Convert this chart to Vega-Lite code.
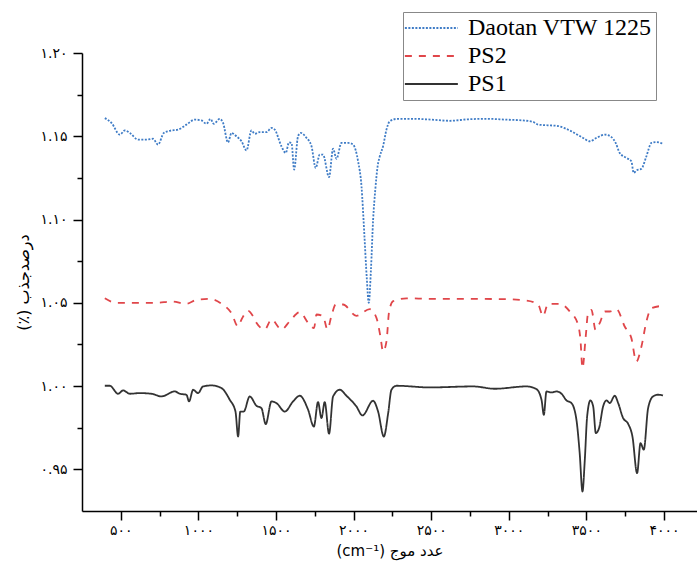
{
 "$schema": "https://vega.github.io/schema/vega-lite/v6.json",
 "width": 615,
 "height": 458,
 "autosize": {"type": "none"},
 "padding": {"left": 82, "top": 53, "right": 0, "bottom": 55},
 "background": "white",
 "config": {
  "view": {"stroke": null},
  "axis": {"grid": false, "domainColor": "#000", "domainWidth": 1.5, "tickColor": "#000", "tickWidth": 1.5, "labelColor": "#000", "titleColor": "#000", "labelFont": "DejaVu Sans", "titleFont": "DejaVu Sans", "titleFontWeight": "normal"},
  "legend": {"orient": "none", "legendX": 321, "legendY": -41, "strokeColor": "#888", "padding": 4, "symbolType": "M-1.6,0H4.4", "symbolSize": 312, "symbolStrokeWidth": 2, "symbolFillColor": "transparent", "labelFont": "Liberation Serif", "labelFontSize": 24, "labelColor": "#000", "labelOffset": 37, "rowPadding": 4, "title": null, "labelLimit": 400}
 },
 "data": {"values": [
  {"series":"Daotan VTW 1225","wn":397,"v":1.1609},{"series":"Daotan VTW 1225","wn":440,"v":1.1580},{"series":"Daotan VTW 1225","wn":494,"v":1.1510},{"series":"Daotan VTW 1225","wn":526,"v":1.1535},{"series":"Daotan VTW 1225","wn":558,"v":1.1520},{"series":"Daotan VTW 1225","wn":612,"v":1.1480},{"series":"Daotan VTW 1225","wn":666,"v":1.1480},{"series":"Daotan VTW 1225","wn":708,"v":1.1485},{"series":"Daotan VTW 1225","wn":740,"v":1.1450},{"series":"Daotan VTW 1225","wn":777,"v":1.1520},{"series":"Daotan VTW 1225","wn":816,"v":1.1533},{"series":"Daotan VTW 1225","wn":869,"v":1.1540},{"series":"Daotan VTW 1225","wn":923,"v":1.1570},{"series":"Daotan VTW 1225","wn":977,"v":1.1600},{"series":"Daotan VTW 1225","wn":1020,"v":1.1595},{"series":"Daotan VTW 1225","wn":1052,"v":1.1575},{"series":"Daotan VTW 1225","wn":1078,"v":1.1604},{"series":"Daotan VTW 1225","wn":1099,"v":1.1575},{"series":"Daotan VTW 1225","wn":1138,"v":1.1604},{"series":"Daotan VTW 1225","wn":1159,"v":1.1580},{"series":"Daotan VTW 1225","wn":1191,"v":1.1463},{"series":"Daotan VTW 1225","wn":1213,"v":1.1520},{"series":"Daotan VTW 1225","wn":1245,"v":1.1500},{"series":"Daotan VTW 1225","wn":1278,"v":1.1470},{"series":"Daotan VTW 1225","wn":1310,"v":1.1415},{"series":"Daotan VTW 1225","wn":1342,"v":1.1535},{"series":"Daotan VTW 1225","wn":1363,"v":1.1515},{"series":"Daotan VTW 1225","wn":1396,"v":1.1525},{"series":"Daotan VTW 1225","wn":1439,"v":1.1525},{"series":"Daotan VTW 1225","wn":1471,"v":1.1550},{"series":"Daotan VTW 1225","wn":1492,"v":1.1540},{"series":"Daotan VTW 1225","wn":1535,"v":1.1440},{"series":"Daotan VTW 1225","wn":1563,"v":1.1400},{"series":"Daotan VTW 1225","wn":1584,"v":1.1463},{"series":"Daotan VTW 1225","wn":1600,"v":1.1460},{"series":"Daotan VTW 1225","wn":1617,"v":1.1300},{"series":"Daotan VTW 1225","wn":1642,"v":1.1500},{"series":"Daotan VTW 1225","wn":1660,"v":1.1520},{"series":"Daotan VTW 1225","wn":1697,"v":1.1490},{"series":"Daotan VTW 1225","wn":1729,"v":1.1440},{"series":"Daotan VTW 1225","wn":1756,"v":1.1310},{"series":"Daotan VTW 1225","wn":1782,"v":1.1390},{"series":"Daotan VTW 1225","wn":1803,"v":1.1390},{"series":"Daotan VTW 1225","wn":1842,"v":1.1255},{"series":"Daotan VTW 1225","wn":1868,"v":1.1425},{"series":"Daotan VTW 1225","wn":1890,"v":1.1365},{"series":"Daotan VTW 1225","wn":1922,"v":1.1460},{"series":"Daotan VTW 1225","wn":1965,"v":1.1460},{"series":"Daotan VTW 1225","wn":1997,"v":1.1450},{"series":"Daotan VTW 1225","wn":2029,"v":1.1350},{"series":"Daotan VTW 1225","wn":2051,"v":1.1200},{"series":"Daotan VTW 1225","wn":2070,"v":1.0900},{"series":"Daotan VTW 1225","wn":2085,"v":1.0650},{"series":"Daotan VTW 1225","wn":2098,"v":1.0500},{"series":"Daotan VTW 1225","wn":2112,"v":1.0700},{"series":"Daotan VTW 1225","wn":2126,"v":1.1000},{"series":"Daotan VTW 1225","wn":2140,"v":1.1180},{"series":"Daotan VTW 1225","wn":2155,"v":1.1320},{"series":"Daotan VTW 1225","wn":2169,"v":1.1380},{"series":"Daotan VTW 1225","wn":2190,"v":1.1440},{"series":"Daotan VTW 1225","wn":2212,"v":1.1540},{"series":"Daotan VTW 1225","wn":2233,"v":1.1590},{"series":"Daotan VTW 1225","wn":2276,"v":1.1604},{"series":"Daotan VTW 1225","wn":2383,"v":1.1605},{"series":"Daotan VTW 1225","wn":2500,"v":1.1600},{"series":"Daotan VTW 1225","wn":2620,"v":1.1593},{"series":"Daotan VTW 1225","wn":2740,"v":1.1602},{"series":"Daotan VTW 1225","wn":2856,"v":1.1605},{"series":"Daotan VTW 1225","wn":2980,"v":1.1600},{"series":"Daotan VTW 1225","wn":3092,"v":1.1595},{"series":"Daotan VTW 1225","wn":3157,"v":1.1586},{"series":"Daotan VTW 1225","wn":3189,"v":1.1570},{"series":"Daotan VTW 1225","wn":3250,"v":1.1566},{"series":"Daotan VTW 1225","wn":3307,"v":1.1563},{"series":"Daotan VTW 1225","wn":3393,"v":1.1535},{"series":"Daotan VTW 1225","wn":3479,"v":1.1490},{"series":"Daotan VTW 1225","wn":3522,"v":1.1470},{"series":"Daotan VTW 1225","wn":3565,"v":1.1490},{"series":"Daotan VTW 1225","wn":3619,"v":1.1510},{"series":"Daotan VTW 1225","wn":3662,"v":1.1495},{"series":"Daotan VTW 1225","wn":3689,"v":1.1460},{"series":"Daotan VTW 1225","wn":3715,"v":1.1400},{"series":"Daotan VTW 1225","wn":3758,"v":1.1370},{"series":"Daotan VTW 1225","wn":3790,"v":1.1350},{"series":"Daotan VTW 1225","wn":3805,"v":1.1280},{"series":"Daotan VTW 1225","wn":3822,"v":1.1295},{"series":"Daotan VTW 1225","wn":3855,"v":1.1305},{"series":"Daotan VTW 1225","wn":3887,"v":1.1380},{"series":"Daotan VTW 1225","wn":3919,"v":1.1460},{"series":"Daotan VTW 1225","wn":3951,"v":1.1465},{"series":"Daotan VTW 1225","wn":3994,"v":1.1455},
  {"series":"PS2","wn":397,"v":1.0527},{"series":"PS2","wn":472,"v":1.0500},{"series":"PS2","wn":579,"v":1.0500},{"series":"PS2","wn":730,"v":1.0500},{"series":"PS2","wn":827,"v":1.0508},{"series":"PS2","wn":923,"v":1.0494},{"series":"PS2","wn":988,"v":1.0518},{"series":"PS2","wn":1073,"v":1.0524},{"series":"PS2","wn":1149,"v":1.0494},{"series":"PS2","wn":1213,"v":1.0438},{"series":"PS2","wn":1256,"v":1.0358},{"series":"PS2","wn":1278,"v":1.0400},{"series":"PS2","wn":1320,"v":1.0452},{"series":"PS2","wn":1352,"v":1.0420},{"series":"PS2","wn":1374,"v":1.0380},{"series":"PS2","wn":1428,"v":1.0340},{"series":"PS2","wn":1471,"v":1.0400},{"series":"PS2","wn":1535,"v":1.0340},{"series":"PS2","wn":1589,"v":1.0390},{"series":"PS2","wn":1653,"v":1.0444},{"series":"PS2","wn":1707,"v":1.0380},{"series":"PS2","wn":1745,"v":1.0348},{"series":"PS2","wn":1761,"v":1.0430},{"series":"PS2","wn":1803,"v":1.0420},{"series":"PS2","wn":1832,"v":1.0340},{"series":"PS2","wn":1857,"v":1.0420},{"series":"PS2","wn":1885,"v":1.0490},{"series":"PS2","wn":1932,"v":1.0490},{"series":"PS2","wn":2018,"v":1.0422},{"series":"PS2","wn":2104,"v":1.0462},{"series":"PS2","wn":2148,"v":1.0408},{"series":"PS2","wn":2173,"v":1.0298},{"series":"PS2","wn":2190,"v":1.0208},{"series":"PS2","wn":2212,"v":1.0268},{"series":"PS2","wn":2229,"v":1.0448},{"series":"PS2","wn":2255,"v":1.0510},{"series":"PS2","wn":2341,"v":1.0527},{"series":"PS2","wn":2491,"v":1.0524},{"series":"PS2","wn":2706,"v":1.0524},{"series":"PS2","wn":2964,"v":1.0522},{"series":"PS2","wn":3114,"v":1.0514},{"series":"PS2","wn":3189,"v":1.0490},{"series":"PS2","wn":3221,"v":1.0420},{"series":"PS2","wn":3253,"v":1.0494},{"series":"PS2","wn":3329,"v":1.0494},{"series":"PS2","wn":3393,"v":1.0448},{"series":"PS2","wn":3447,"v":1.0368},{"series":"PS2","wn":3462,"v":1.0278},{"series":"PS2","wn":3475,"v":1.0108},{"series":"PS2","wn":3496,"v":1.0298},{"series":"PS2","wn":3511,"v":1.0438},{"series":"PS2","wn":3533,"v":1.0458},{"series":"PS2","wn":3559,"v":1.0338},{"series":"PS2","wn":3586,"v":1.0378},{"series":"PS2","wn":3619,"v":1.0448},{"series":"PS2","wn":3651,"v":1.0448},{"series":"PS2","wn":3694,"v":1.0462},{"series":"PS2","wn":3747,"v":1.0358},{"series":"PS2","wn":3790,"v":1.0288},{"series":"PS2","wn":3822,"v":1.0148},{"series":"PS2","wn":3855,"v":1.0238},{"series":"PS2","wn":3887,"v":1.0388},{"series":"PS2","wn":3919,"v":1.0468},{"series":"PS2","wn":3994,"v":1.0482},
  {"series":"PS1","wn":397,"v":1.0002},{"series":"PS1","wn":429,"v":1.0002},{"series":"PS1","wn":483,"v":0.9954},{"series":"PS1","wn":515,"v":0.9974},{"series":"PS1","wn":558,"v":0.9954},{"series":"PS1","wn":622,"v":0.9958},{"series":"PS1","wn":698,"v":0.9954},{"series":"PS1","wn":762,"v":0.9938},{"series":"PS1","wn":848,"v":0.9968},{"series":"PS1","wn":880,"v":0.9954},{"series":"PS1","wn":923,"v":0.9948},{"series":"PS1","wn":940,"v":0.9908},{"series":"PS1","wn":966,"v":0.9978},{"series":"PS1","wn":998,"v":0.9958},{"series":"PS1","wn":1030,"v":0.9998},{"series":"PS1","wn":1084,"v":1.0004},{"series":"PS1","wn":1149,"v":0.9988},{"series":"PS1","wn":1202,"v":0.9918},{"series":"PS1","wn":1239,"v":0.9847},{"series":"PS1","wn":1256,"v":0.9697},{"series":"PS1","wn":1270,"v":0.9847},{"series":"PS1","wn":1292,"v":0.9847},{"series":"PS1","wn":1331,"v":0.9938},{"series":"PS1","wn":1374,"v":0.9882},{"series":"PS1","wn":1406,"v":0.9868},{"series":"PS1","wn":1434,"v":0.9772},{"series":"PS1","wn":1471,"v":0.9908},{"series":"PS1","wn":1503,"v":0.9898},{"series":"PS1","wn":1557,"v":0.9847},{"series":"PS1","wn":1610,"v":0.9908},{"series":"PS1","wn":1653,"v":0.9942},{"series":"PS1","wn":1707,"v":0.9858},{"series":"PS1","wn":1744,"v":0.9757},{"series":"PS1","wn":1771,"v":0.9904},{"series":"PS1","wn":1793,"v":0.9808},{"series":"PS1","wn":1814,"v":0.9904},{"series":"PS1","wn":1842,"v":0.9714},{"series":"PS1","wn":1868,"v":0.9938},{"series":"PS1","wn":1911,"v":0.9978},{"series":"PS1","wn":1954,"v":0.9942},{"series":"PS1","wn":2018,"v":0.9878},{"series":"PS1","wn":2057,"v":0.9824},{"series":"PS1","wn":2126,"v":0.9912},{"series":"PS1","wn":2158,"v":0.9847},{"series":"PS1","wn":2195,"v":0.9697},{"series":"PS1","wn":2223,"v":0.9838},{"series":"PS1","wn":2244,"v":0.9978},{"series":"PS1","wn":2276,"v":1.0002},{"series":"PS1","wn":2491,"v":0.9992},{"series":"PS1","wn":2770,"v":0.9998},{"series":"PS1","wn":2910,"v":0.9984},{"series":"PS1","wn":3114,"v":0.9998},{"series":"PS1","wn":3178,"v":0.9982},{"series":"PS1","wn":3211,"v":0.9918},{"series":"PS1","wn":3226,"v":0.9828},{"series":"PS1","wn":3243,"v":0.9968},{"series":"PS1","wn":3275,"v":0.9962},{"series":"PS1","wn":3307,"v":0.9968},{"series":"PS1","wn":3340,"v":0.9954},{"series":"PS1","wn":3372,"v":0.9914},{"series":"PS1","wn":3404,"v":0.9898},{"series":"PS1","wn":3436,"v":0.9798},{"series":"PS1","wn":3457,"v":0.9598},{"series":"PS1","wn":3475,"v":0.9367},{"series":"PS1","wn":3490,"v":0.9557},{"series":"PS1","wn":3505,"v":0.9817},{"series":"PS1","wn":3526,"v":0.9914},{"series":"PS1","wn":3544,"v":0.9878},{"series":"PS1","wn":3561,"v":0.9718},{"series":"PS1","wn":3582,"v":0.9748},{"series":"PS1","wn":3608,"v":0.9878},{"series":"PS1","wn":3630,"v":0.9914},{"series":"PS1","wn":3651,"v":0.9898},{"series":"PS1","wn":3683,"v":0.9942},{"series":"PS1","wn":3705,"v":0.9898},{"series":"PS1","wn":3737,"v":0.9808},{"series":"PS1","wn":3769,"v":0.9774},{"series":"PS1","wn":3797,"v":0.9697},{"series":"PS1","wn":3827,"v":0.9477},{"series":"PS1","wn":3849,"v":0.9658},{"series":"PS1","wn":3870,"v":0.9618},{"series":"PS1","wn":3898,"v":0.9868},{"series":"PS1","wn":3930,"v":0.9938},{"series":"PS1","wn":3962,"v":0.9948},{"series":"PS1","wn":3994,"v":0.9944}
 ]},
 "layer": [
  {
   "mark": {"type": "line", "interpolate": "monotone", "strokeWidth": 1.8},
   "encoding": {
    "x": {"field": "wn", "type": "quantitative", "scale": {"domain": [250, 4213], "nice": false, "zero": false},
     "axis": {"orient": "bottom", "values": [500,1000,1500,2000,2500,3000,3500,4000], "tickSize": 9, "labelFontSize": 14, "labelPadding": 3,
      "labelExpr": "replace(replace(replace(replace(replace(replace(replace(replace(replace(replace(format(datum.value,'d'),regexp('0','g'),'۰'),regexp('1','g'),'۱'),regexp('2','g'),'۲'),regexp('3','g'),'۳'),regexp('4','g'),'۴'),regexp('5','g'),'۵'),regexp('6','g'),'۶'),regexp('7','g'),'۷'),regexp('8','g'),'۸'),regexp('9','g'),'۹')",
      "title": "(cm⁻¹) عدد موج", "titleFontSize": 15, "titlePadding": 6}},
    "y": {"field": "v", "type": "quantitative", "scale": {"domain": [0.925, 1.2], "nice": false, "zero": false},
     "axis": {"orient": "left", "values": [0.95,1.0,1.05,1.1,1.15,1.2], "tickSize": 9, "labelFontSize": 14, "labelPadding": 6,
      "labelExpr": "replace(replace(replace(replace(replace(replace(replace(replace(replace(replace(format(datum.value,'.2f'),regexp('0','g'),'۰'),regexp('1','g'),'۱'),regexp('2','g'),'۲'),regexp('3','g'),'۳'),regexp('4','g'),'۴'),regexp('5','g'),'۵'),regexp('6','g'),'۶'),regexp('7','g'),'۷'),regexp('8','g'),'۸'),regexp('9','g'),'۹')",
      "title": "(٪) درصدجذب", "titleFontSize": 16, "titlePadding": 8}},
    "color": {"field": "series", "type": "nominal", "scale": {"domain": ["Daotan VTW 1225", "PS2", "PS1"], "range": ["#3f7cc6", "#e0464a", "#333333"]}},
    "strokeDash": {"field": "series", "type": "nominal", "scale": {"domain": ["Daotan VTW 1225", "PS2", "PS1"], "range": [[2, 1.5], [7, 7], [1, 0]]}}
   }
  },
  {
   "mark": {"type": "line", "opacity": 0},
   "encoding": {
    "x": {"field": "wn", "type": "quantitative", "axis": {"orient": "bottom", "values": [750,1250,1750,2250,2750,3250,3750], "labels": false, "domain": false, "tickSize": 5, "title": null}},
    "y": {"field": "v", "type": "quantitative", "axis": {"orient": "left", "values": [0.975,1.025,1.075,1.125,1.175], "labels": false, "domain": false, "tickSize": 5, "title": null}}
   }
  }
 ],
 "resolve": {"axis": {"x": "independent", "y": "independent"}}
}
